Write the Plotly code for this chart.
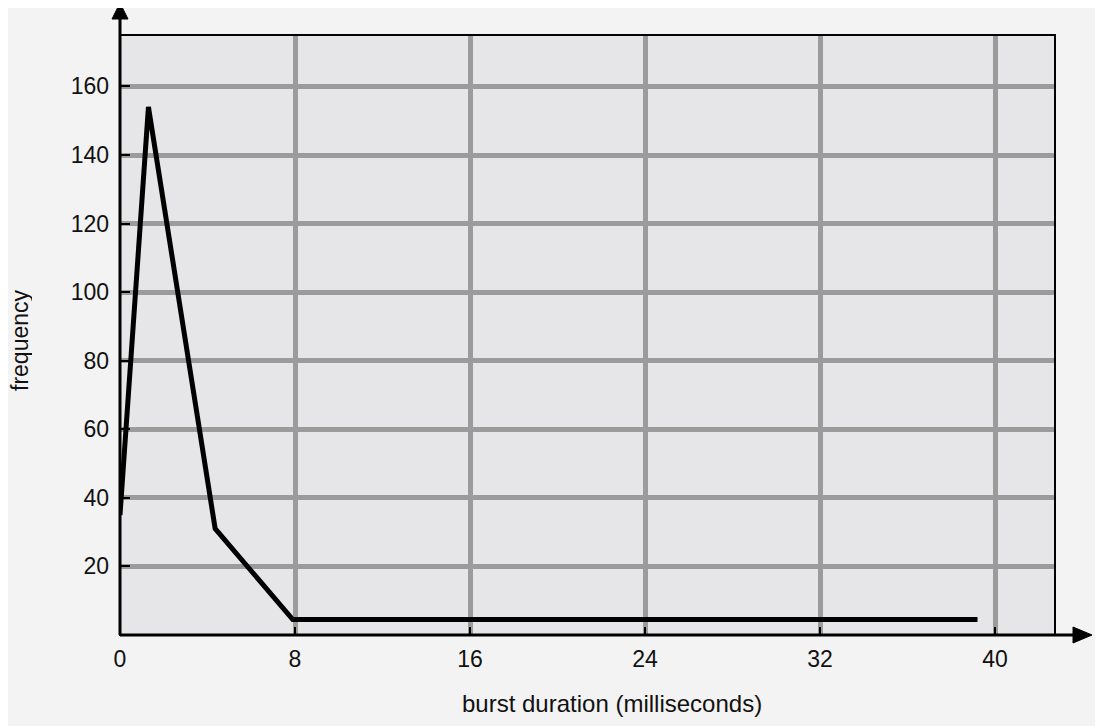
import plotly.graph_objects as go

# Data
burst_ms = [0, 1.3, 4.35, 7.9, 39.2]
frequency = [35, 154, 31, 4.5, 4.5]

x_ticks = [0, 8, 16, 24, 32, 40]
y_ticks = [20, 40, 60, 80, 100, 120, 140, 160]

OFF = 8  # browser body margin
W, H = 1103 - OFF, 726 - OFF
# plot area in page pixels: x 120..1055, y 35..635
L, R, T, B = 120 - OFF, 1103 - 1055, 35 - OFF, 726 - 635
PW, PH = W - L - R, H - T - B

def px(xp):  # page pixel -> paper
    return (xp - 120) / PW

def py(yp):
    return (635 - yp) / PH

font = "Liberation Sans, Arial, Helvetica, sans-serif"

fig = go.Figure()
fig.add_trace(go.Scatter(
    x=burst_ms, y=frequency, mode="lines",
    line=dict(color="black", width=5),
    hoverinfo="skip", showlegend=False,
))

fig.update_layout(
    width=W, height=H,
    margin=dict(l=L, r=R, t=T, b=B),
    paper_bgcolor="#f3f3f3",
    plot_bgcolor="#e6e6e8",
    showlegend=False,
    xaxis=dict(
        range=[0, PW / 21.875], tickvals=x_ticks, ticktext=[str(v) for v in x_ticks],
        showgrid=True, gridcolor="#9b9b9b", gridwidth=5,
        zeroline=False, showline=False,
        ticks="inside", ticklen=8, tickwidth=2, tickcolor="black",
        tickfont=dict(family=font, size=23, color="#111"),
        ticklabelstandoff=8,
    ),
    yaxis=dict(
        range=[0, 175], tickvals=y_ticks,
        showgrid=True, gridcolor="#9b9b9b", gridwidth=5,
        zeroline=False, showline=False,
        ticks="inside", ticklen=10, tickwidth=2, tickcolor="black",
        tickfont=dict(family=font, size=23, color="#111"),
        ticklabelstandoff=10,
    ),
)

# Plot frame (top/right thinner)
fig.add_shape(type="rect", xref="paper", yref="paper", x0=0, y0=0, x1=1, y1=1,
              line=dict(color="black", width=2), layer="above")
# Axis lines with arrows
fig.add_shape(type="line", xref="paper", yref="paper", x0=0, y0=0, x1=0, y1=py(16),
              line=dict(color="black", width=3), layer="above")
fig.add_shape(type="line", xref="paper", yref="paper", x0=0, y0=0, x1=px(1076), y1=0,
              line=dict(color="black", width=3), layer="above")
# arrowheads
fig.add_shape(type="path", xref="paper", yref="paper",
              path=f"M {px(120)} {py(3)} L {px(112)} {py(19)} L {px(128)} {py(19)} Z",
              fillcolor="black", line=dict(color="black", width=1), layer="above")
fig.add_shape(type="path", xref="paper", yref="paper",
              path=f"M {px(1092)} {py(635)} L {px(1073)} {py(627)} L {px(1073)} {py(643)} Z",
              fillcolor="black", line=dict(color="black", width=1), layer="above")

# Axis titles
fig.add_annotation(text="burst duration (milliseconds)", xref="paper", yref="paper",
                   x=px(612), y=py(703), xanchor="center", yanchor="middle", showarrow=False,
                   font=dict(family=font, size=24, color="#111"))
fig.add_annotation(text="frequency", xref="paper", yref="paper",
                   x=px(20), y=py(340), xanchor="center", yanchor="middle", showarrow=False,
                   textangle=-90, height=24, borderpad=0,
                   font=dict(family=font, size=23, color="#111"))

fig.write_html("out.html")
